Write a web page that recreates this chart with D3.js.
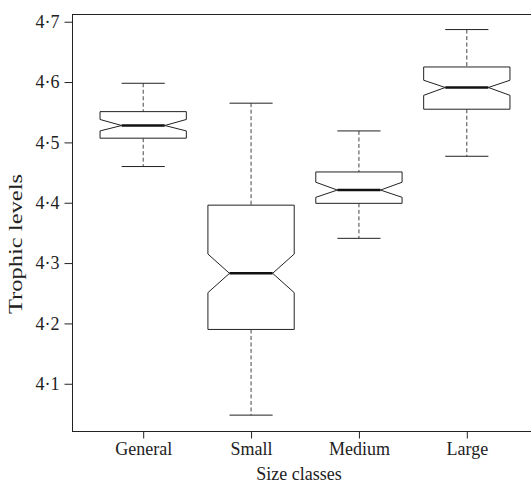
<!DOCTYPE html>
<html>
<head>
<meta charset="utf-8">
<script src="https://cdn.jsdelivr.net/npm/d3@7"></script>
<style>
  body { margin: 0; background: #fff; }
  svg { display: block; }
</style>
</head>
<body>
<div id="root"></div>
<script>
// data
const categories = ["General", "Small", "Medium", "Large"];
const whiskerHigh = [4.598, 4.565, 4.519, 4.687];
const q3 = [4.551, 4.396, 4.451, 4.625];
const notchHigh = [4.538, 4.315, 4.434, 4.603];
const median = [4.528, 4.283, 4.421, 4.591];
const notchLow = [4.519, 4.251, 4.409, 4.578];
const q1 = [4.507, 4.190, 4.399, 4.555];
const whiskerLow = [4.460, 4.048, 4.341, 4.477];
const yTicks = [4.1, 4.2, 4.3, 4.4, 4.5, 4.6, 4.7];

const width = 531;
const height = 483;
const font = "'Liberation Serif', 'Times New Roman', serif";
const ink = "#222";

const boxes = categories.map((c, i) => ({
  id: c, pos: i + 1,
  lo: whiskerLow[i], q1: q1[i], nlo: notchLow[i], med: median[i],
  nhi: notchHigh[i], q3: q3[i], hi: whiskerHigh[i]
}));

const svg = d3.select("#root")
  .append("svg")
  .attr("width", width)
  .attr("height", height)
  .style("background", "#fff");

// R-style extended ranges: x 0.34..4.66
const xScale = d3.scaleLinear()
  .domain([0.34, 4.66])
  .range([72, 538]);

const yScale = d3.scaleLinear()
  .domain([4.0217, 4.7128])
  .range([431, 14]);

const boxHalf = 0.4;   // box width / 2 in x units
const capHalf = 0.2;   // staple width / 2

// frame
svg.append("rect")
  .attr("x", xScale(0.34) + 0.5)
  .attr("y", yScale(4.7128) + 0.5)
  .attr("width", xScale(4.66) - xScale(0.34))
  .attr("height", yScale(4.0217) - yScale(4.7128))
  .attr("fill", "none")
  .attr("stroke", ink)
  .attr("stroke-width", 1);

// axes
const yAxis = svg.append("g")
  .attr("transform", `translate(${xScale(0.34) + 0.5},0)`)
  .call(d3.axisLeft(yScale)
    .tickValues(yTicks)
    .tickSize(8)
    .tickPadding(5)
    .tickFormat(d => d.toFixed(1).replace(".", "·")));

const xAxis = svg.append("g")
  .attr("transform", `translate(0,${yScale(4.0217) + 0.5})`)
  .call(d3.axisBottom(xScale)
    .tickValues([1, 2, 3, 4])
    .tickSize(7)
    .tickPadding(4)
    .tickFormat(d => categories[d - 1]));

[yAxis, xAxis].forEach(ax => {
  ax.select(".domain").remove();
  ax.selectAll("line").attr("stroke", ink);
  ax.selectAll("text")
    .attr("fill", ink)
    .style("font-family", font)
    .style("font-size", "18px");
});

// boxes
const g = svg.append("g")
  .selectAll("g")
  .data(boxes)
  .enter().append("g");

// dashed whiskers
g.append("line")
  .attr("x1", d => xScale(d.pos)).attr("x2", d => xScale(d.pos))
  .attr("y1", d => yScale(d.hi)).attr("y2", d => yScale(d.q3))
  .attr("stroke", "#444").attr("stroke-dasharray", "4,2.5");
g.append("line")
  .attr("x1", d => xScale(d.pos)).attr("x2", d => xScale(d.pos))
  .attr("y1", d => yScale(d.q1)).attr("y2", d => yScale(d.lo))
  .attr("stroke", "#444").attr("stroke-dasharray", "4,2.5");

// staples
["hi", "lo"].forEach(k => {
  g.append("line")
    .attr("x1", d => xScale(d.pos - capHalf)).attr("x2", d => xScale(d.pos + capHalf))
    .attr("y1", d => yScale(d[k])).attr("y2", d => yScale(d[k]))
    .attr("stroke", ink);
});

// notched box
g.append("path")
  .attr("fill", "#fff")
  .attr("stroke", ink)
  .attr("stroke-width", 1)
  .attr("d", d => {
    const l = xScale(d.pos - boxHalf), r = xScale(d.pos + boxHalf);
    const li = xScale(d.pos - boxHalf / 2), ri = xScale(d.pos + boxHalf / 2);
    const pts = [
      [l, yScale(d.q1)], [l, yScale(d.nlo)], [li, yScale(d.med)], [l, yScale(d.nhi)],
      [l, yScale(d.q3)], [r, yScale(d.q3)], [r, yScale(d.nhi)], [ri, yScale(d.med)],
      [r, yScale(d.nlo)], [r, yScale(d.q1)]
    ];
    return "M" + pts.map(p => p.join(",")).join("L") + "Z";
  });

// median
g.append("line")
  .attr("x1", d => xScale(d.pos - boxHalf / 2)).attr("x2", d => xScale(d.pos + boxHalf / 2))
  .attr("y1", d => yScale(d.med)).attr("y2", d => yScale(d.med))
  .attr("stroke", "#111")
  .attr("stroke-width", 2.5);

// axis titles
svg.append("text")
  .attr("x", 299)
  .attr("y", 480)
  .attr("text-anchor", "middle")
  .attr("fill", ink)
  .style("font-family", font)
  .style("font-size", "18px")
  .text("Size classes");

svg.append("text")
  .attr("transform", "translate(22,244) rotate(-90)")
  .attr("text-anchor", "middle")
  .attr("fill", ink)
  .attr("textLength", 140)
  .attr("lengthAdjust", "spacingAndGlyphs")
  .style("font-family", font)
  .style("font-size", "19px")
  .text("Trophic levels");
</script>
</body>
</html>
